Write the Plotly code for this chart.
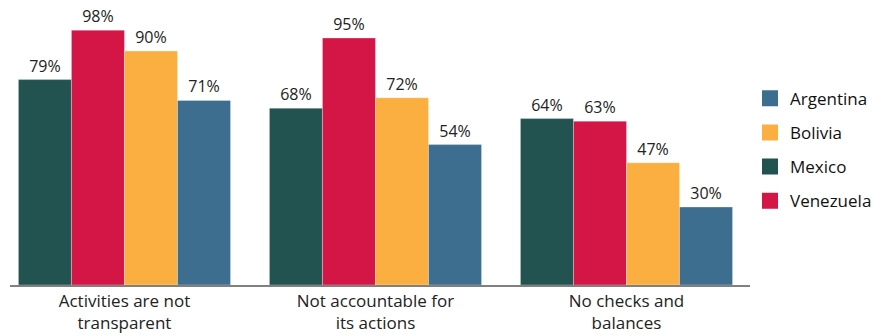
import plotly.graph_objects as go

categories = ["Activities are not<br>transparent", "Not accountable for<br>its actions", "No checks and<br>balances"]
mexico = [79, 68, 64]
venezuela = [98, 95, 63]
bolivia = [90, 72, 47]
argentina = [71, 54, 30]

series = [
    ("Mexico", mexico, "#225351", 3),
    ("Venezuela", venezuela, "#D31645", 4),
    ("Bolivia", bolivia, "#FBAF40", 2),
    ("Argentina", argentina, "#3E6E8F", 1),
]

FONT = "'Open Sans', 'Noto Sans', sans-serif"

fig = go.Figure()
for name, vals, color, rank in series:
    fig.add_trace(go.Bar(
        x=categories, y=vals, name=name, showlegend=False,
        marker=dict(color=color, line=dict(color="rgba(255,255,255,0.6)", width=0.5)),
        texttemplate="%{y}%", textposition="outside",
        textfont=dict(size=16, color="#222222", family=FONT),
        cliponaxis=False, hoverinfo="skip",
    ))
for name, vals, color, rank in series:
    fig.add_trace(go.Scatter(
        x=[None], y=[None], mode="markers", name=name,
        marker=dict(symbol="square", size=16, color=color),
        legendrank=rank, legendgroup=name, showlegend=True,
    ))

fig.update_layout(
    width=885, height=336,
    margin=dict(l=10, r=135, t=25, b=51, autoexpand=False),
    paper_bgcolor="white", plot_bgcolor="white",
    barmode="group", bargap=0.155, bargroupgap=0,
    font=dict(family=FONT, size=16, color="#222222"),
    legend=dict(x=1.0, xanchor="left", y=0.52, yanchor="middle",
                font=dict(size=17, color="#111111"),
                traceorder="grouped", tracegroupgap=9,
                itemclick=False),
    xaxis=dict(range=[-0.456, 2.492], showline=True, linecolor="#808080", linewidth=1.5,
               automargin=False, ticks="", tickfont=dict(size=17, color="#222222"),
               showgrid=False, zeroline=False),
    yaxis=dict(range=[0, 100], visible=False, showgrid=False, zeroline=False, automargin=False),
)

fig.write_html("out.html", config={"displayModeBar": False},
               post_script="document.body.style.margin='0px';document.body.style.overflow='hidden';")
